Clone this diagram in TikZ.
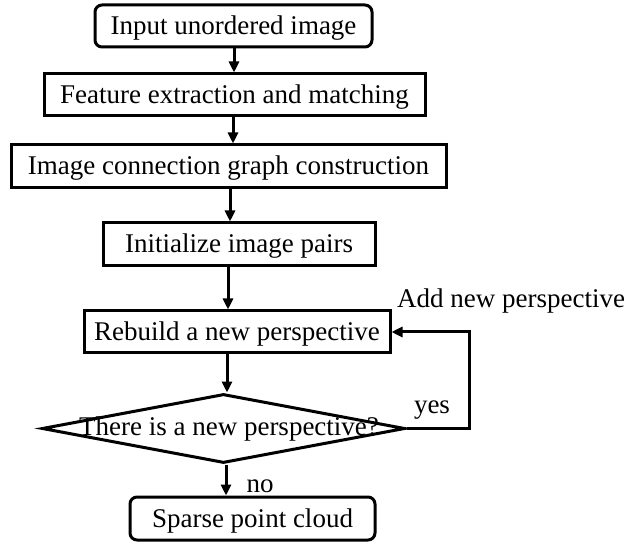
\documentclass[tikz,border=0pt]{standalone}
\usepackage{fontspec}
\setmainfont{Liberation Serif}
\usetikzlibrary{arrows.meta,shapes.geometric}
\begin{document}
\begin{tikzpicture}[x=1pt,y=-1pt,
  every node/.style={font=\fontsize{27}{29}\selectfont, inner sep=0pt},
  proc/.style={draw, line width=3pt, minimum height=42pt, text height=19pt, text depth=2pt},
  term/.style={proc, rounded corners=7pt},
  dec/.style={draw, line width=3pt, diamond, aspect=5.26, minimum width=363pt, minimum height=69pt},
  arr/.style={line width=3pt, -{Triangle[length=11pt,width=10pt]}},
  lab/.style={font=\fontsize{27}{29}\selectfont}]
\useasboundingbox (0,0) rectangle (624,545);
\node[term, minimum width=277pt] (b1) at (233.5,26) {Input unordered image};
\node[proc, minimum width=381pt] (b2) at (234.5,95) {Feature extraction and matching};
\node[proc, minimum width=435pt, minimum height=43pt] (b3) at (228.5,166.5) {Image connection graph construction};
\node[proc, minimum width=272pt, minimum height=43pt] (b4) at (239,244.5) {Initialize image pairs};
\node[proc, minimum width=306pt] (b5) at (237,332) {Rebuild a new perspective};
\node[dec] (d) at (223.5,428.5) {};
\node[text height=19pt, text depth=6pt] (dt) at (229,428.5) {There is a new perspective?};
\node[term, minimum width=245pt, minimum height=43pt] (b6) at (252.5,518.5) {Sparse point cloud};
\coordinate (s1) at (234,0);
\coordinate (s2) at (233,0);
\coordinate (s3) at (230,0);
\coordinate (s4) at (228,0);
\coordinate (s5) at (227,0);
\coordinate (s6) at (226,0);
\coordinate (lp) at (469,0);
\draw[arr] (b1.south -| s1) -- (b2.north -| s1);
\draw[arr] (b2.south -| s2) -- (b3.north -| s2);
\draw[arr] (b3.south -| s3) -- (b4.north -| s3);
\draw[arr] (b4.south -| s4) -- (b5.north -| s4);
\draw[arr] (b5.south -| s5) -- (d.north -| s5);
\draw[arr] (d.south -| s6) -- (b6.north -| s6);
\draw[arr] (d.east) -- (d.east -| lp) -- (b5.east -| lp) -- (b5.east);
\node[lab, anchor=base west] (add) at (397,308) {Add new perspective};
\node[lab, anchor=base] (yes) at (432,413) {yes};
\node[lab, anchor=base] (no) at (260,492) {no};
\end{tikzpicture}
\end{document}
